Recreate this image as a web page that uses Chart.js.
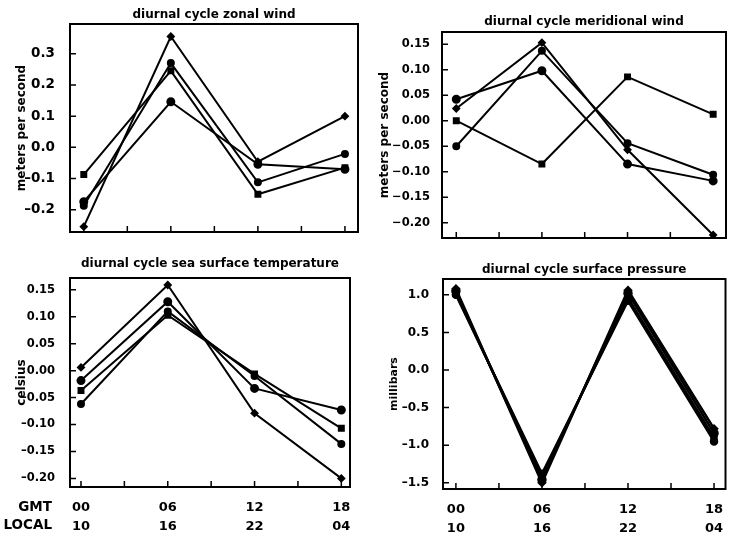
<!DOCTYPE html>
<html>
<head>
<meta charset="utf-8">
<script src="https://cdn.jsdelivr.net/npm/chart.js@4"></script>
<style>
  body { margin: 0; background: #fff; width: 732px; height: 537px; overflow: hidden; }
  .panel { position: absolute; }
</style>
</head>
<body>
<div class="panel" style="left:0px;top:0px"><canvas id="zonal" width="366" height="250"></canvas></div>
<div class="panel" style="left:370px;top:0px"><canvas id="merid" width="362" height="250"></canvas></div>
<div class="panel" style="left:0px;top:250px"><canvas id="sst" width="366" height="287"></canvas></div>
<div class="panel" style="left:370px;top:250px"><canvas id="pres" width="362" height="287"></canvas></div>
<script>
// hours of the day (GMT) and the labels under the bottom panels
const hours = [0, 6, 12, 18];
const gmtLabels = ['00', '06', '12', '18'];
const localLabels = ['10', '16', '22', '04'];
const xTickHours = [0, 3, 6, 9, 12, 15, 18];

// zonal wind, m/s
const zonalA = [-0.254, 0.355, -0.046, 0.10];
const zonalB = [-0.174, 0.146, -0.054, -0.07];
const zonalC = [-0.087, 0.245, -0.15, -0.065];
const zonalD = [-0.187, 0.27, -0.112, -0.021];
const zonalTicks = [-0.2, -0.1, 0.0, 0.1, 0.2, 0.3];

// meridional wind, m/s
const meridA = [0.024, 0.153, -0.057, -0.224];
const meridB = [0.042, 0.098, -0.085, -0.118];
const meridC = [0.00, -0.085, 0.086, 0.0125];
const meridD = [-0.05, 0.137, -0.044, -0.106];
const meridTicks = [-0.20, -0.15, -0.10, -0.05, 0.00, 0.05, 0.10, 0.15];

// sea surface temperature, celsius
const sstA = [0.006, 0.159, -0.079, -0.2];
const sstB = [-0.0185, 0.128, -0.033, -0.073];
const sstC = [-0.037, 0.103, -0.006, -0.107];
const sstD = [-0.062, 0.11, -0.01, -0.136];
const sstTicks = [-0.20, -0.15, -0.10, -0.05, 0.00, 0.05, 0.10, 0.15];

// surface pressure, millibars
const presA = [1.08, -1.5, 1.06, -0.78];
const presB = [1.05, -1.46, 1.02, -0.84];
const presC = [1.02, -1.42, 0.96, -0.9];
const presD = [1.0, -1.38, 0.92, -0.95];
const presTicks = [-1.5, -1.0, -0.5, 0.0, 0.5, 1.0];

const markerStyles = ['rectRot', 'circle', 'rect', 'circle'];
const markerSizes = [3, 3.5, 3.5, 3];

Chart.defaults.font.family = '"DejaVu Sans", sans-serif';
Chart.defaults.font.weight = 'bold';
Chart.defaults.color = '#000';
Chart.defaults.animation = false;

// box around the plot, inward tick marks, GMT/LOCAL row names
const frameAndTicks = {
    id: 'frameAndTicks',
    afterDraw(chart, args, opts) {
        const { ctx, chartArea: a, scales: { x, y } } = chart;
        ctx.save();
        ctx.strokeStyle = '#000';
        ctx.lineWidth = 1.5;
        ctx.beginPath();
        x.ticks.forEach(t => {
            const px = x.getPixelForValue(t.value);
            ctx.moveTo(px, a.bottom);
            ctx.lineTo(px, a.bottom - 6);
        });
        y.ticks.forEach(t => {
            const py = y.getPixelForValue(t.value);
            ctx.moveTo(a.left, py);
            ctx.lineTo(a.left + 6, py);
        });
        ctx.stroke();
        ctx.lineWidth = 2;
        ctx.strokeRect(a.left, a.top, a.right - a.left, a.bottom - a.top);
        if (opts.sideLabels) {
            const lh = 18.5;
            ctx.font = 'bold 13.5px "DejaVu Sans", sans-serif';
            ctx.fillStyle = '#000';
            ctx.textAlign = 'right';
            ctx.textBaseline = 'middle';
            opts.sideLabels.forEach((s, i) => {
                ctx.fillText(s, a.left - 18, x.top + 11 + lh * (i + 0.5));
            });
        }
        ctx.restore();
    }
};

function makePanel(id, cfg) {
    new Chart(document.getElementById(id), {
        type: 'line',
        data: {
            datasets: cfg.series.map((vals, i) => ({
                data: hours.map((h, j) => ({ x: h, y: vals[j] })),
                borderColor: '#000',
                backgroundColor: '#000',
                borderWidth: cfg.lineWidth,
                pointStyle: markerStyles[i],
                pointRadius: markerSizes[i],
                tension: 0
            }))
        },
        options: {
            responsive: false,
            layout: { padding: cfg.pad },
            plugins: {
                legend: { display: false },
                tooltip: { enabled: false },
                title: {
                    display: true,
                    text: cfg.title,
                    fullSize: false,
                    font: { size: 12, weight: 'bold' },
                    padding: cfg.titlePad
                },
                frameAndTicks: { sideLabels: cfg.sideLabels }
            },
            scales: {
                x: {
                    type: 'linear',
                    min: cfg.xMin,
                    max: cfg.xMax,
                    grid: { display: false },
                    border: { display: false },
                    afterBuildTicks: s => { s.ticks = xTickHours.map(v => ({ value: v })); },
                    afterFit: s => { s.height = cfg.xHeight; },
                    ticks: {
                        display: cfg.showX,
                        autoSkip: false,
                        maxRotation: 0,
                        padding: 4,
                        font: { size: 13, lineHeight: 1.4 },
                        callback: v => {
                            const i = hours.indexOf(v);
                            return i < 0 ? '' : [gmtLabels[i], localLabels[i]];
                        }
                    }
                },
                y: {
                    min: cfg.yMin,
                    max: cfg.yMax,
                    grid: { display: false },
                    border: { display: false },
                    afterBuildTicks: s => { s.ticks = cfg.yTicks.map(v => ({ value: v })); },
                    afterFit: s => { s.width = cfg.yWidth; },
                    ticks: {
                        padding: cfg.tickPad,
                        font: { size: cfg.tickSize },
                        callback: v => v.toFixed(cfg.dec).replace('-', cfg.minus)
                    },
                    title: {
                        display: true,
                        text: cfg.yTitle,
                        font: { size: cfg.yTitleSize, weight: 'bold' },
                        padding: { top: cfg.yTitlePad, bottom: 0 }
                    }
                }
            }
        },
        plugins: [frameAndTicks]
    });
}

makePanel('zonal', {
    title: 'diurnal cycle zonal wind',
    yTitle: 'meters per second', yTitleSize: 12, yTitlePad: 15,
    series: [zonalA, zonalB, zonalC, zonalD],
    yTicks: zonalTicks, dec: 1, tickSize: 13.5, tickPad: 7, minus: '\u2013',
    yMin: -0.271, yMax: 0.395,
    xMin: -0.95, xMax: 18.9,
    pad: { left: 0, right: 8, top: 0, bottom: 0 },
    titlePad: { top: 8, bottom: 1.6 },
    yWidth: 70, xHeight: 18, lineWidth: 2,
    showX: false
});

makePanel('merid', {
    title: 'diurnal cycle meridional wind',
    yTitle: 'meters per second', yTitleSize: 12, yTitlePad: 8,
    series: [meridA, meridB, meridC, meridD],
    yTicks: meridTicks, dec: 2, tickSize: 11.5, tickPad: 4, minus: '\u2212',
    yMin: -0.230, yMax: 0.174,
    xMin: -1.0, xMax: 18.9,
    pad: { left: 0, right: 2, top: 0, bottom: 0 },
    titlePad: { top: 14.8, bottom: 2.8 },
    yWidth: 72, xHeight: 12, lineWidth: 2,
    showX: false
});

makePanel('sst', {
    title: 'diurnal cycle sea surface temperature',
    yTitle: 'celsius', yTitleSize: 12, yTitlePad: 15,
    series: [sstA, sstB, sstC, sstD],
    yTicks: sstTicks, dec: 2, tickSize: 11.5, tickPad: 7, minus: '\u2013',
    yMin: -0.216, yMax: 0.172,
    xMin: -0.76, xMax: 18.6,
    pad: { left: 0, right: 16, top: 0, bottom: 0 },
    titlePad: { top: 6.8, bottom: 6.8 },
    yWidth: 70, xHeight: 50, lineWidth: 2,
    showX: true,
    sideLabels: ['GMT', 'LOCAL']
});

makePanel('pres', {
    title: 'diurnal cycle surface pressure',
    yTitle: 'millibars', yTitleSize: 11, yTitlePad: 18,
    series: [presA, presB, presC, presD],
    yTicks: presTicks, dec: 1, tickSize: 12, tickPad: 6, minus: '\u2013',
    yMin: -1.582, yMax: 1.21,
    xMin: -0.9, xMax: 18.8,
    pad: { left: 0, right: 2, top: 0, bottom: 0 },
    titlePad: { top: 12.8, bottom: 1.8 },
    yWidth: 73, xHeight: 48, lineWidth: 2.5,
    showX: true
});
</script>
</body>
</html>
